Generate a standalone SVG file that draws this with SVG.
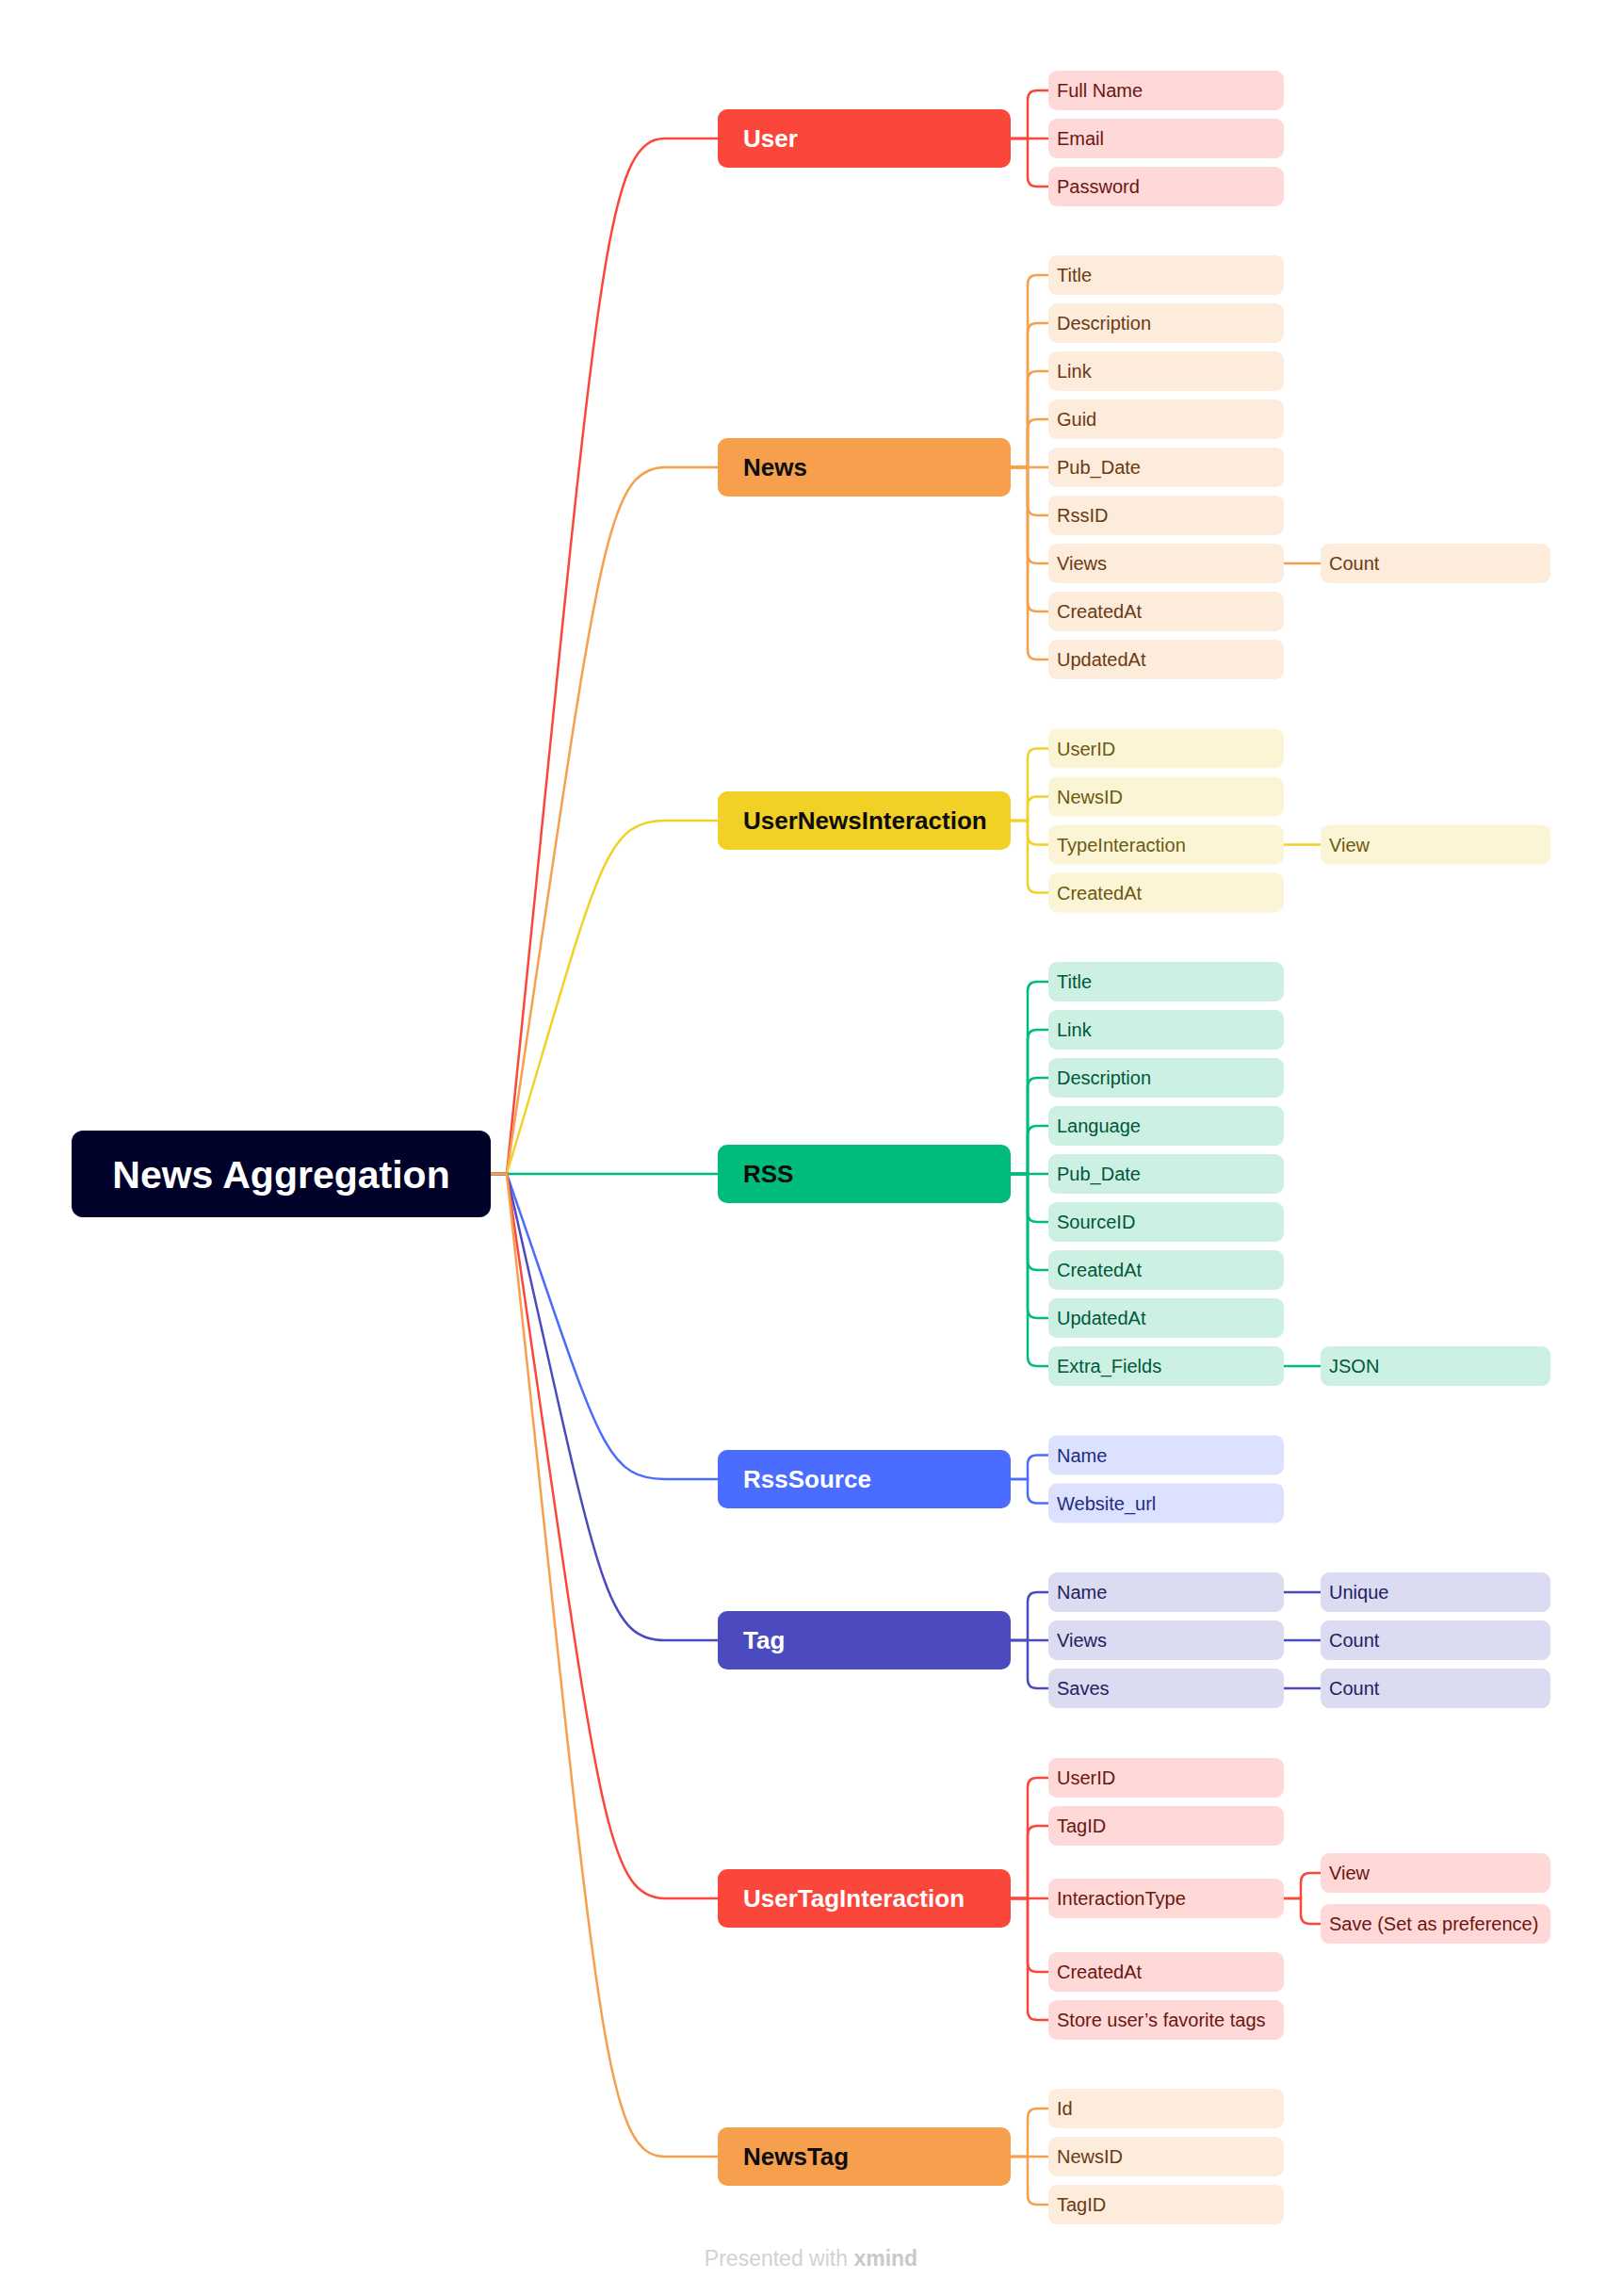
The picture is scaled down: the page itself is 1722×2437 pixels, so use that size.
<svg xmlns="http://www.w3.org/2000/svg" width="1722" height="2437" viewBox="0 0 1722 2437">
  <style>
    .bg { fill: #ffffff; }
    .root rect { fill: #000229; }
    .root text { fill: #ffffff; font-family: "Liberation Sans", Arial, sans-serif; font-weight: 700; font-size: 41px; text-anchor: middle; }
    .main rect { rx: 10px; ry: 10px; }
    .main text { font-family: "Liberation Sans", Arial, sans-serif; font-weight: 700; font-size: 26px; }
    .sub rect { rx: 9px; ry: 9px; }
    .sub text { font-family: "Liberation Sans", Arial, sans-serif; font-size: 20px; }
    .links path { fill: none; stroke-width: 2.5; }
    .red rect { fill: #FB463B; }  .red text { fill: #ffffff; }
    .org rect { fill: #F6A04D; }  .org text { fill: #0d0d0d; }
    .yel rect { fill: #F2D126; }  .yel text { fill: #0d0d0d; }
    .grn rect { fill: #00BC7B; }  .grn text { fill: #0d0d0d; }
    .blu rect { fill: #4A6CFF; }  .blu text { fill: #ffffff; }
    .ind rect { fill: #4B4BBF; }  .ind text { fill: #ffffff; }
    .sred rect { fill: #FFD9D7; } .sred text { fill: #6B1611; }
    .sorg rect { fill: #FDEBDC; } .sorg text { fill: #6B3A12; }
    .syel rect { fill: #FCF5D5; } .syel text { fill: #6B5910; }
    .sgrn rect { fill: #CCF1E3; } .sgrn text { fill: #00573A; }
    .sblu rect { fill: #DBE1FF; } .sblu text { fill: #1D2D82; }
    .sind rect { fill: #DBDBF1; } .sind text { fill: #22225E; }
    .cred { stroke: #FB463B; } .corg { stroke: #F6A04D; } .cyel { stroke: #F2D126; }
    .cgrn { stroke: #00BC7B; } .cblu { stroke: #4A6CFF; } .cind { stroke: #4B4BBF; }
    .footer { font-family: "Liberation Sans", Arial, sans-serif; font-size: 23px; fill: #D2D2D2; text-anchor: middle; }
  </style>

  <rect class="bg" x="0" y="0" width="1722" height="2437"/>

  <!-- connectors -->
  <g id="connectors" class="links">
    <!-- root to main topics -->
    <path class="cred" d="M521,1246 H538 C635,300 640,147 706,147 H762"/>
    <path class="corg" d="M521,1246 H538 C635,600 640,496 706,496 H762"/>
    <path class="cyel" d="M521,1246 H538 C635,923 640,871 706,871 H762"/>
    <path class="cgrn" d="M521,1246 H762"/>
    <path class="cblu" d="M521,1246 H538 C635,1525 640,1570 706,1570 H762"/>
    <path class="cind" d="M521,1246 H538 C635,1672 640,1741 706,1741 H762"/>
    <path class="cred" d="M521,1246 H538 C635,1908 640,2015 706,2015 H762"/>
    <path class="corg" d="M521,1246 H538 C635,2144 640,2289 706,2289 H762"/>

    <!-- User -->
    <path class="cred" d="M1073,147 H1091 V106 Q1091,96 1101,96 H1113"/>
    <path class="cred" d="M1073,147 H1113"/>
    <path class="cred" d="M1073,147 H1091 V188 Q1091,198 1101,198 H1113"/>

    <!-- News -->
    <path class="corg" d="M1073,496 H1091 V302 Q1091,292 1101,292 H1113"/>
    <path class="corg" d="M1073,496 H1091 V353 Q1091,343 1101,343 H1113"/>
    <path class="corg" d="M1073,496 H1091 V404 Q1091,394 1101,394 H1113"/>
    <path class="corg" d="M1073,496 H1091 V455 Q1091,445 1101,445 H1113"/>
    <path class="corg" d="M1073,496 H1113"/>
    <path class="corg" d="M1073,496 H1091 V537 Q1091,547 1101,547 H1113"/>
    <path class="corg" d="M1073,496 H1091 V588 Q1091,598 1101,598 H1113"/>
    <path class="corg" d="M1073,496 H1091 V639 Q1091,649 1101,649 H1113"/>
    <path class="corg" d="M1073,496 H1091 V690 Q1091,700 1101,700 H1113"/>
    <path class="corg" d="M1363,598 H1402"/>

    <!-- UserNewsInteraction -->
    <path class="cyel" d="M1073,871 H1091 V804.5 Q1091,794.5 1101,794.5 H1113"/>
    <path class="cyel" d="M1073,871 H1091 V855.5 Q1091,845.5 1101,845.5 H1113"/>
    <path class="cyel" d="M1073,871 H1091 V886.5 Q1091,896.5 1101,896.5 H1113"/>
    <path class="cyel" d="M1073,871 H1091 V937.5 Q1091,947.5 1101,947.5 H1113"/>
    <path class="cyel" d="M1363,896.5 H1402"/>

    <!-- RSS -->
    <path class="cgrn" d="M1073,1246 H1091 V1052 Q1091,1042 1101,1042 H1113"/>
    <path class="cgrn" d="M1073,1246 H1091 V1103 Q1091,1093 1101,1093 H1113"/>
    <path class="cgrn" d="M1073,1246 H1091 V1154 Q1091,1144 1101,1144 H1113"/>
    <path class="cgrn" d="M1073,1246 H1091 V1205 Q1091,1195 1101,1195 H1113"/>
    <path class="cgrn" d="M1073,1246 H1113"/>
    <path class="cgrn" d="M1073,1246 H1091 V1287 Q1091,1297 1101,1297 H1113"/>
    <path class="cgrn" d="M1073,1246 H1091 V1338 Q1091,1348 1101,1348 H1113"/>
    <path class="cgrn" d="M1073,1246 H1091 V1389 Q1091,1399 1101,1399 H1113"/>
    <path class="cgrn" d="M1073,1246 H1091 V1440 Q1091,1450 1101,1450 H1113"/>
    <path class="cgrn" d="M1363,1450 H1402"/>

    <!-- RssSource -->
    <path class="cblu" d="M1073,1570 H1091 V1554.5 Q1091,1544.5 1101,1544.5 H1113"/>
    <path class="cblu" d="M1073,1570 H1091 V1585.5 Q1091,1595.5 1101,1595.5 H1113"/>

    <!-- Tag -->
    <path class="cind" d="M1073,1741 H1091 V1700 Q1091,1690 1101,1690 H1113"/>
    <path class="cind" d="M1073,1741 H1113"/>
    <path class="cind" d="M1073,1741 H1091 V1782 Q1091,1792 1101,1792 H1113"/>
    <path class="cind" d="M1363,1690 H1402"/>
    <path class="cind" d="M1363,1741 H1402"/>
    <path class="cind" d="M1363,1792 H1402"/>

    <!-- UserTagInteraction -->
    <path class="cred" d="M1073,2015 H1091 V1897 Q1091,1887 1101,1887 H1113"/>
    <path class="cred" d="M1073,2015 H1091 V1948 Q1091,1938 1101,1938 H1113"/>
    <path class="cred" d="M1073,2015 H1113"/>
    <path class="cred" d="M1073,2015 H1091 V2083 Q1091,2093 1101,2093 H1113"/>
    <path class="cred" d="M1073,2015 H1091 V2134 Q1091,2144 1101,2144 H1113"/>
    <path class="cred" d="M1363,2015 H1381 V1998 Q1381,1988 1391,1988 H1402"/>
    <path class="cred" d="M1363,2015 H1381 V2032 Q1381,2042 1391,2042 H1402"/>

    <!-- NewsTag -->
    <path class="corg" d="M1073,2289 H1091 V2248 Q1091,2238 1101,2238 H1113"/>
    <path class="corg" d="M1073,2289 H1113"/>
    <path class="corg" d="M1073,2289 H1091 V2330 Q1091,2340 1101,2340 H1113"/>
  </g>

  <!-- central topic -->
  <g id="root" class="root">
    <rect x="76" y="1200" width="445" height="92" rx="12" ry="12"/>
    <text x="298.5" y="1261">News Aggregation</text>
  </g>

  <!-- main topics -->
  <g id="user" class="main red"><rect x="762" y="116" width="311" height="62"/><text x="789" y="156">User</text></g>
  <g id="news" class="main org"><rect x="762" y="465" width="311" height="62"/><text x="789" y="505">News</text></g>
  <g id="user-news-interaction" class="main yel"><rect x="762" y="840" width="311" height="62"/><text x="789" y="880">UserNewsInteraction</text></g>
  <g id="rss" class="main grn"><rect x="762" y="1215" width="311" height="62"/><text x="789" y="1255">RSS</text></g>
  <g id="rss-source" class="main blu"><rect x="762" y="1539" width="311" height="62"/><text x="789" y="1579">RssSource</text></g>
  <g id="tag" class="main ind"><rect x="762" y="1710" width="311" height="62"/><text x="789" y="1750">Tag</text></g>
  <g id="user-tag-interaction" class="main red"><rect x="762" y="1984" width="311" height="62"/><text x="789" y="2024">UserTagInteraction</text></g>
  <g id="news-tag" class="main org"><rect x="762" y="2258" width="311" height="62"/><text x="789" y="2298">NewsTag</text></g>

  <!-- User fields -->
  <g id="user-fullname" class="sub sred"><rect x="1113" y="75" width="250" height="42"/><text x="1122" y="103">Full Name</text></g>
  <g id="user-email" class="sub sred"><rect x="1113" y="126" width="250" height="42"/><text x="1122" y="154">Email</text></g>
  <g id="user-password" class="sub sred"><rect x="1113" y="177" width="250" height="42"/><text x="1122" y="205">Password</text></g>

  <!-- News fields -->
  <g id="news-title" class="sub sorg"><rect x="1113" y="271" width="250" height="42"/><text x="1122" y="299">Title</text></g>
  <g id="news-description" class="sub sorg"><rect x="1113" y="322" width="250" height="42"/><text x="1122" y="350">Description</text></g>
  <g id="news-link" class="sub sorg"><rect x="1113" y="373" width="250" height="42"/><text x="1122" y="401">Link</text></g>
  <g id="news-guid" class="sub sorg"><rect x="1113" y="424" width="250" height="42"/><text x="1122" y="452">Guid</text></g>
  <g id="news-pubdate" class="sub sorg"><rect x="1113" y="475" width="250" height="42"/><text x="1122" y="503">Pub_Date</text></g>
  <g id="news-rssid" class="sub sorg"><rect x="1113" y="526" width="250" height="42"/><text x="1122" y="554">RssID</text></g>
  <g id="news-views" class="sub sorg"><rect x="1113" y="577" width="250" height="42"/><text x="1122" y="605">Views</text></g>
  <g id="news-views-count" class="sub sorg"><rect x="1402" y="577" width="244" height="42"/><text x="1411" y="605">Count</text></g>
  <g id="news-createdat" class="sub sorg"><rect x="1113" y="628" width="250" height="42"/><text x="1122" y="656">CreatedAt</text></g>
  <g id="news-updatedat" class="sub sorg"><rect x="1113" y="679" width="250" height="42"/><text x="1122" y="707">UpdatedAt</text></g>

  <!-- UserNewsInteraction fields -->
  <g id="uni-userid" class="sub syel"><rect x="1113" y="773.5" width="250" height="42"/><text x="1122" y="801.5">UserID</text></g>
  <g id="uni-newsid" class="sub syel"><rect x="1113" y="824.5" width="250" height="42"/><text x="1122" y="852.5">NewsID</text></g>
  <g id="uni-type" class="sub syel"><rect x="1113" y="875.5" width="250" height="42"/><text x="1122" y="903.5">TypeInteraction</text></g>
  <g id="uni-type-view" class="sub syel"><rect x="1402" y="875.5" width="244" height="42"/><text x="1411" y="903.5">View</text></g>
  <g id="uni-createdat" class="sub syel"><rect x="1113" y="926.5" width="250" height="42"/><text x="1122" y="954.5">CreatedAt</text></g>

  <!-- RSS fields -->
  <g id="rss-title" class="sub sgrn"><rect x="1113" y="1021" width="250" height="42"/><text x="1122" y="1049">Title</text></g>
  <g id="rss-link" class="sub sgrn"><rect x="1113" y="1072" width="250" height="42"/><text x="1122" y="1100">Link</text></g>
  <g id="rss-description" class="sub sgrn"><rect x="1113" y="1123" width="250" height="42"/><text x="1122" y="1151">Description</text></g>
  <g id="rss-language" class="sub sgrn"><rect x="1113" y="1174" width="250" height="42"/><text x="1122" y="1202">Language</text></g>
  <g id="rss-pubdate" class="sub sgrn"><rect x="1113" y="1225" width="250" height="42"/><text x="1122" y="1253">Pub_Date</text></g>
  <g id="rss-sourceid" class="sub sgrn"><rect x="1113" y="1276" width="250" height="42"/><text x="1122" y="1304">SourceID</text></g>
  <g id="rss-createdat" class="sub sgrn"><rect x="1113" y="1327" width="250" height="42"/><text x="1122" y="1355">CreatedAt</text></g>
  <g id="rss-updatedat" class="sub sgrn"><rect x="1113" y="1378" width="250" height="42"/><text x="1122" y="1406">UpdatedAt</text></g>
  <g id="rss-extra" class="sub sgrn"><rect x="1113" y="1429" width="250" height="42"/><text x="1122" y="1457">Extra_Fields</text></g>
  <g id="rss-extra-json" class="sub sgrn"><rect x="1402" y="1429" width="244" height="42"/><text x="1411" y="1457">JSON</text></g>

  <!-- RssSource fields -->
  <g id="rsssource-name" class="sub sblu"><rect x="1113" y="1523.5" width="250" height="42"/><text x="1122" y="1551.5">Name</text></g>
  <g id="rsssource-url" class="sub sblu"><rect x="1113" y="1574.5" width="250" height="42"/><text x="1122" y="1602.5">Website_url</text></g>

  <!-- Tag fields -->
  <g id="tag-name" class="sub sind"><rect x="1113" y="1669" width="250" height="42"/><text x="1122" y="1697">Name</text></g>
  <g id="tag-name-unique" class="sub sind"><rect x="1402" y="1669" width="244" height="42"/><text x="1411" y="1697">Unique</text></g>
  <g id="tag-views" class="sub sind"><rect x="1113" y="1720" width="250" height="42"/><text x="1122" y="1748">Views</text></g>
  <g id="tag-views-count" class="sub sind"><rect x="1402" y="1720" width="244" height="42"/><text x="1411" y="1748">Count</text></g>
  <g id="tag-saves" class="sub sind"><rect x="1113" y="1771" width="250" height="42"/><text x="1122" y="1799">Saves</text></g>
  <g id="tag-saves-count" class="sub sind"><rect x="1402" y="1771" width="244" height="42"/><text x="1411" y="1799">Count</text></g>

  <!-- UserTagInteraction fields -->
  <g id="uti-userid" class="sub sred"><rect x="1113" y="1866" width="250" height="42"/><text x="1122" y="1894">UserID</text></g>
  <g id="uti-tagid" class="sub sred"><rect x="1113" y="1917" width="250" height="42"/><text x="1122" y="1945">TagID</text></g>
  <g id="uti-interactiontype" class="sub sred"><rect x="1113" y="1994" width="250" height="42"/><text x="1122" y="2022">InteractionType</text></g>
  <g id="uti-type-view" class="sub sred"><rect x="1402" y="1967" width="244" height="42"/><text x="1411" y="1995">View</text></g>
  <g id="uti-type-save" class="sub sred"><rect x="1402" y="2021" width="244" height="42"/><text x="1411" y="2049">Save (Set as preference)</text></g>
  <g id="uti-createdat" class="sub sred"><rect x="1113" y="2072" width="250" height="42"/><text x="1122" y="2100">CreatedAt</text></g>
  <g id="uti-favorites" class="sub sred"><rect x="1113" y="2123" width="250" height="42"/><text x="1122" y="2151">Store user’s favorite tags</text></g>

  <!-- NewsTag fields -->
  <g id="newstag-id" class="sub sorg"><rect x="1113" y="2217" width="250" height="42"/><text x="1122" y="2245">Id</text></g>
  <g id="newstag-newsid" class="sub sorg"><rect x="1113" y="2268" width="250" height="42"/><text x="1122" y="2296">NewsID</text></g>
  <g id="newstag-tagid" class="sub sorg"><rect x="1113" y="2319" width="250" height="42"/><text x="1122" y="2347">TagID</text></g>

  <text class="footer" x="861" y="2405">Presented with <tspan font-weight="700" fill="#C9C9C9">xmind</tspan></text>
</svg>
